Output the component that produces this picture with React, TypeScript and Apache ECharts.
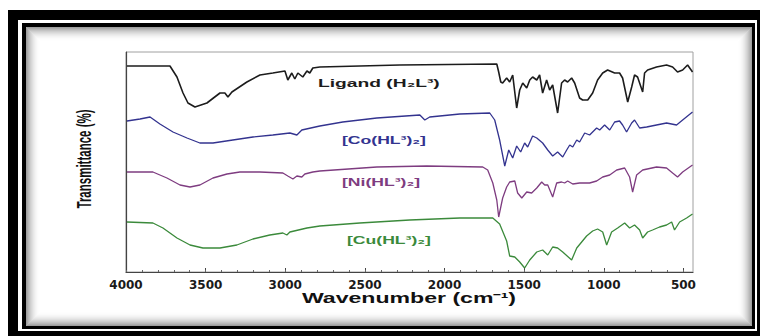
import React, { useEffect, useRef } from 'react';
import * as echarts from 'echarts';

// [wavenumber (cm-1), transmittance (offset, a.u.)]
const LIGAND: [number, number][] = [
  [3994, 206], [3724, 206], [3680, 195], [3642, 179], [3611, 169], [3567, 165], [3492, 169],
  [3410, 179], [3379, 179], [3360, 175], [3335, 180], [3241, 190], [3159, 197], [3078, 199],
  [3002, 201], [2984, 192], [2959, 199], [2940, 193], [2921, 199], [2890, 195], [2864, 201],
  [2846, 199], [2827, 204], [2783, 205], [2281, 207], [1672, 208], [1660, 200], [1647, 190],
  [1635, 189], [1610, 194], [1591, 190], [1572, 197], [1547, 164], [1528, 182], [1509, 189],
  [1484, 184], [1465, 192], [1447, 195], [1421, 192], [1403, 197], [1384, 179], [1359, 192],
  [1340, 182], [1321, 187], [1290, 159], [1265, 189], [1246, 192], [1227, 190], [1202, 194],
  [1183, 189], [1152, 174], [1133, 172], [1101, 172], [1070, 179], [1039, 192], [1007, 199],
  [976, 202], [932, 199], [901, 199], [882, 194], [850, 170], [825, 185], [807, 197],
  [788, 195], [756, 180], [744, 199], [725, 202], [669, 205], [606, 207], [568, 205],
  [537, 200], [505, 202], [474, 207], [443, 200],
];

const CO_COMPLEX: [number, number][] = [
  [3994, 151], [3912, 153], [3849, 155], [3787, 148], [3705, 140], [3617, 134], [3536, 129],
  [3454, 129], [3329, 132], [3203, 135], [3078, 137], [2971, 139], [2927, 137], [2896, 142],
  [2783, 146], [2639, 150], [2425, 154], [2155, 157], [2124, 152], [2093, 155], [1904, 158],
  [1716, 159], [1685, 152], [1654, 132], [1622, 106], [1597, 122], [1572, 114], [1547, 126],
  [1522, 120], [1497, 129], [1478, 125], [1447, 136], [1421, 134], [1384, 129], [1352, 122],
  [1321, 116], [1290, 120], [1258, 115], [1233, 122], [1214, 127], [1195, 125], [1170, 132],
  [1152, 130], [1120, 139], [1089, 137], [1045, 144], [1026, 142], [995, 147], [963, 142],
  [932, 150], [901, 151], [882, 147], [857, 140], [825, 149], [807, 152], [775, 144],
  [731, 145], [669, 147], [606, 149], [543, 147], [505, 152], [443, 160],
];

const NI_COMPLEX: [number, number][] = [
  [3994, 100], [3831, 100], [3743, 94], [3661, 87], [3598, 85], [3536, 87], [3454, 94],
  [3366, 98], [3285, 100], [3159, 100], [3015, 99], [2984, 96], [2952, 93], [2927, 96],
  [2896, 95], [2877, 98], [2827, 100], [2783, 101], [2425, 105], [2112, 106], [1760, 105],
  [1729, 102], [1697, 89], [1672, 72], [1660, 55], [1635, 74], [1610, 85], [1591, 90],
  [1559, 91], [1541, 79], [1515, 74], [1484, 80], [1453, 79], [1421, 84], [1390, 90],
  [1371, 87], [1352, 87], [1321, 75], [1296, 89], [1265, 90], [1246, 89], [1227, 91],
  [1195, 88], [1152, 89], [1089, 89], [1045, 91], [1007, 95], [963, 97], [919, 102],
  [869, 104], [838, 95], [819, 80], [794, 97], [756, 102], [669, 105], [606, 104],
  [568, 99], [537, 95], [505, 100], [443, 107],
];

const CU_COMPLEX: [number, number][] = [
  [3994, 50], [3831, 49], [3768, 44], [3680, 34], [3598, 27], [3517, 24], [3410, 24],
  [3304, 27], [3203, 33], [3097, 37], [3015, 39], [2990, 37], [2971, 40], [2864, 44],
  [2783, 46], [2532, 49], [2218, 52], [1904, 54], [1697, 54], [1654, 48], [1610, 31],
  [1591, 16], [1559, 15], [1528, 10], [1497, 4], [1465, 12], [1421, 20], [1384, 22],
  [1352, 17], [1321, 25], [1290, 24], [1258, 20], [1202, 12], [1170, 24], [1139, 30],
  [1108, 36], [1070, 41], [1039, 43], [1007, 40], [982, 27], [951, 40], [913, 44],
  [869, 49], [838, 44], [807, 47], [775, 42], [756, 34], [725, 40], [694, 42],
  [650, 45], [606, 47], [574, 50], [556, 42], [524, 50], [480, 54], [443, 58],
];

const SERIES_NAMES = ['Ligand (H₂L³)', '[Co(HL³)₂]', '[Ni(HL³)₂]', '[Cu(HL³)₂]'];
const SERIES_COLORS = ['#1c1c1c', '#33338f', '#7e3c80', '#3b8a3b'];
const TICK_LABELS = [4000, 3500, 3000, 2500, 2000, 1500, 1000, 500];
const MINOR_TICKS = [
  4000, 3900, 3800, 3700, 3600, 3500, 3400, 3300, 3200, 3100, 3000, 2900, 2800, 2700, 2600,
  2500, 2400, 2300, 2200, 2100, 2000, 1900, 1800, 1700, 1600, 1500, 1400, 1300, 1200, 1100,
  1000, 900, 800, 700, 600, 500,
];
const X_TITLE = 'Wavenumber (cm⁻¹)';
const Y_TITLE = 'Transmittance (%)';

export default function App() {
  const ref = useRef<HTMLDivElement>(null);

  useEffect(() => {
    if (!ref.current) return;
    const chart = echarts.init(ref.current, undefined, { renderer: 'svg' });

    const shadow: any[] = [];
    for (let i = 0; i < 14; i++) {
      const a = 0.38 * Math.pow(1 - i / 14, 2);
      shadow.push({
        type: 'rect',
        z: -96,
        silent: true,
        shape: { x: 26 + i + 0.5, y: 27 + i + 0.5, width: 726 - 2 * i - 1, height: 299 - 2 * i - 1 },
        style: { fill: 'none', stroke: `rgba(0,0,0,${a.toFixed(3)})`, lineWidth: 1 },
      });
    }

    const labelPos = [
      { x: 318, y: 83, sx: 1.75 },
      { x: 342, y: 140, sx: 1.6 },
      { x: 342, y: 182, sx: 1.6 },
      { x: 347, y: 240, sx: 1.6 },
    ];

    const labels = SERIES_NAMES.map((name, i) => ({
      type: 'text',
      z: 10,
      x: labelPos[i].x,
      y: labelPos[i].y,
      scaleX: labelPos[i].sx,
      style: {
        text: name,
        fill: SERIES_COLORS[i],
        font: 'bold 11px "Liberation Sans", Arial, sans-serif',
        align: 'left',
        verticalAlign: 'middle',
      },
    }));

    const dataSets = [LIGAND, CO_COMPLEX, NI_COMPLEX, CU_COMPLEX];

    chart.setOption({
      animation: false,
      backgroundColor: 'transparent',
      grid: {
        left: 126,
        top: 52,
        width: 567,
        height: 220,
        show: true,
        borderColor: '#a0a0a0',
        borderWidth: 1,
        backgroundColor: 'transparent',
      },
      xAxis: [
        {
          type: 'value',
          min: 440,
          max: 4000,
          inverse: true,
          position: 'bottom',
          axisLine: { show: true, onZero: false, lineStyle: { color: '#444', width: 1.2 } },
          axisTick: { show: true, inside: true, length: 4, customValues: TICK_LABELS, lineStyle: { color: '#444' } },
          axisLabel: {
            show: true,
            customValues: TICK_LABELS,
            formatter: (v: number) => String(v),
            margin: 7,
            color: '#1a1a1a',
            fontFamily: 'DejaVu Sans',
            fontWeight: 'bold',
            fontSize: 12,
          },
          splitLine: { show: false },
        },
        {
          type: 'value',
          min: 440,
          max: 4000,
          inverse: true,
          position: 'bottom',
          offset: 0,
          axisLine: { show: false, onZero: false },
          axisTick: { show: true, inside: true, length: 2, customValues: MINOR_TICKS, lineStyle: { color: '#666' } },
          axisLabel: { show: false },
          splitLine: { show: false },
        },
      ],
      yAxis: {
        type: 'value',
        min: 0,
        max: 220,
        axisLine: { show: true, lineStyle: { color: '#444', width: 1.2 } },
        axisTick: { show: false },
        axisLabel: { show: false },
        splitLine: { show: false },
      },
      series: dataSets.map((d, i) => ({
        type: 'line',
        name: SERIES_NAMES[i],
        data: d,
        xAxisIndex: 0,
        showSymbol: false,
        symbol: 'none',
        smooth: false,
        lineStyle: { color: SERIES_COLORS[i], width: i === 0 ? 1.6 : 1.3 },
        z: 3,
      })),
      graphic: [
        { type: 'rect', z: -100, silent: true, shape: { x: 8, y: 10, width: 752, height: 326 }, style: { fill: '#000' } },
        { type: 'rect', z: -99, silent: true, shape: { x: 18, y: 20, width: 739, height: 311 }, style: { fill: '#fff' } },
        { type: 'rect', z: -98, silent: true, shape: { x: 22, y: 23, width: 733, height: 306 }, style: { fill: '#000' } },
        { type: 'rect', z: -97, silent: true, shape: { x: 26, y: 27, width: 726, height: 299 }, style: { fill: '#fff' } },
        ...shadow,
        ...labels,
        {
          type: 'text',
          z: 10,
          x: 409,
          y: 298,
          scaleX: 1.65,
          style: {
            text: X_TITLE,
            fill: '#111',
            font: 'bold 14px "Liberation Sans", Arial, sans-serif',
            align: 'center',
            verticalAlign: 'middle',
          },
        },
        {
          type: 'text',
          z: 10,
          x: 84,
          y: 159,
          rotation: Math.PI / 2,
          scaleY: 1.8,
          style: {
            text: Y_TITLE,
            fill: '#111',
            font: 'bold 11.5px "Liberation Sans", Arial, sans-serif',
            align: 'center',
            verticalAlign: 'middle',
          },
        },
      ],
    });

    return () => chart.dispose();
  }, []);

  return (
    <div
      ref={ref}
      style={{ position: 'fixed', left: 0, top: 0, width: 760, height: 336, background: '#fff' }}
    />
  );
}
